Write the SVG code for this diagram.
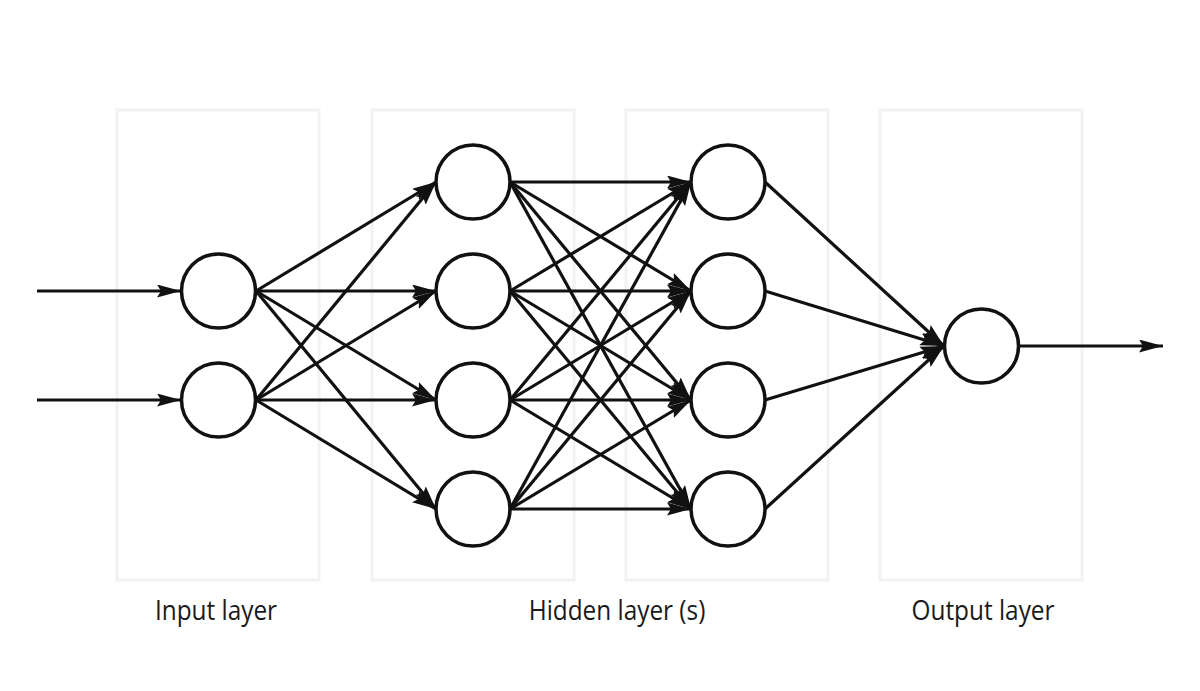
<svg xmlns="http://www.w3.org/2000/svg" width="1200" height="691" viewBox="0 0 1200 691">
<defs>
<marker id="arr" markerWidth="26" markerHeight="14" refX="24" refY="6.5" orient="auto" markerUnits="userSpaceOnUse">
<path d="M0,0 L24,6.5 L0,13 L4,6.5 z" fill="#111"/>
</marker>
<style>
.bg{fill:#fff;stroke:#f2f2f2;stroke-width:3}
.node{fill:#fff;stroke:#111;stroke-width:3.5}
.edge{stroke:#111;stroke-width:3.2;fill:none;marker-end:url(#arr)}
.lbl{font-family:"Open Sans","Noto Sans",sans-serif;font-size:28px;fill:#1a1a1a;text-anchor:middle}
</style>
</defs>
<rect width="1200" height="691" fill="#fff"/>
<g id="panels">
<rect class="bg" x="117" y="110" width="202" height="470"/>
<rect class="bg" x="372" y="110" width="202" height="470"/>
<rect class="bg" x="626" y="110" width="202" height="470"/>
<rect class="bg" x="880" y="110" width="202" height="470"/>
</g>
<g id="connectors">
<line class="edge" x1="37" y1="291" x2="181" y2="291"/>
<line class="edge" x1="37" y1="400" x2="181" y2="400"/>
<line class="edge" x1="256" y1="291" x2="436" y2="182"/>
<line class="edge" x1="256" y1="291" x2="436" y2="291"/>
<line class="edge" x1="256" y1="291" x2="436" y2="400"/>
<line class="edge" x1="256" y1="291" x2="436" y2="509"/>
<line class="edge" x1="256" y1="400" x2="436" y2="182"/>
<line class="edge" x1="256" y1="400" x2="436" y2="291"/>
<line class="edge" x1="256" y1="400" x2="436" y2="400"/>
<line class="edge" x1="256" y1="400" x2="436" y2="509"/>
<line class="edge" x1="510" y1="182" x2="691" y2="182"/>
<line class="edge" x1="510" y1="182" x2="691" y2="291"/>
<line class="edge" x1="510" y1="182" x2="691" y2="400"/>
<line class="edge" x1="510" y1="182" x2="691" y2="509"/>
<line class="edge" x1="510" y1="291" x2="691" y2="182"/>
<line class="edge" x1="510" y1="291" x2="691" y2="291"/>
<line class="edge" x1="510" y1="291" x2="691" y2="400"/>
<line class="edge" x1="510" y1="291" x2="691" y2="509"/>
<line class="edge" x1="510" y1="400" x2="691" y2="182"/>
<line class="edge" x1="510" y1="400" x2="691" y2="291"/>
<line class="edge" x1="510" y1="400" x2="691" y2="400"/>
<line class="edge" x1="510" y1="400" x2="691" y2="509"/>
<line class="edge" x1="510" y1="509" x2="691" y2="182"/>
<line class="edge" x1="510" y1="509" x2="691" y2="291"/>
<line class="edge" x1="510" y1="509" x2="691" y2="400"/>
<line class="edge" x1="510" y1="509" x2="691" y2="509"/>
<line class="edge" x1="765" y1="182" x2="944" y2="346"/>
<line class="edge" x1="765" y1="291" x2="944" y2="346"/>
<line class="edge" x1="765" y1="400" x2="944" y2="346"/>
<line class="edge" x1="765" y1="509" x2="944" y2="346"/>
<line class="edge" x1="1019" y1="346" x2="1163" y2="346"/>
</g>
<g id="in1"><circle class="node" cx="218.5" cy="291" r="37"/></g>
<g id="in2"><circle class="node" cx="218.5" cy="400" r="37"/></g>
<g id="h1a"><circle class="node" cx="473" cy="182" r="37"/></g>
<g id="h1b"><circle class="node" cx="473" cy="291" r="37"/></g>
<g id="h1c"><circle class="node" cx="473" cy="400" r="37"/></g>
<g id="h1d"><circle class="node" cx="473" cy="509" r="37"/></g>
<g id="h2a"><circle class="node" cx="728" cy="182" r="37"/></g>
<g id="h2b"><circle class="node" cx="728" cy="291" r="37"/></g>
<g id="h2c"><circle class="node" cx="728" cy="400" r="37"/></g>
<g id="h2d"><circle class="node" cx="728" cy="509" r="37"/></g>
<g id="out"><circle class="node" cx="981.5" cy="346" r="37"/></g>
<g id="labels">
<text class="lbl" transform="translate(216,620) scale(0.87,1)">Input layer</text>
<text class="lbl" transform="translate(617,620) scale(0.87,1)">Hidden layer (s)</text>
<text class="lbl" transform="translate(983,620) scale(0.87,1)">Output layer</text>
</g>
</svg>
